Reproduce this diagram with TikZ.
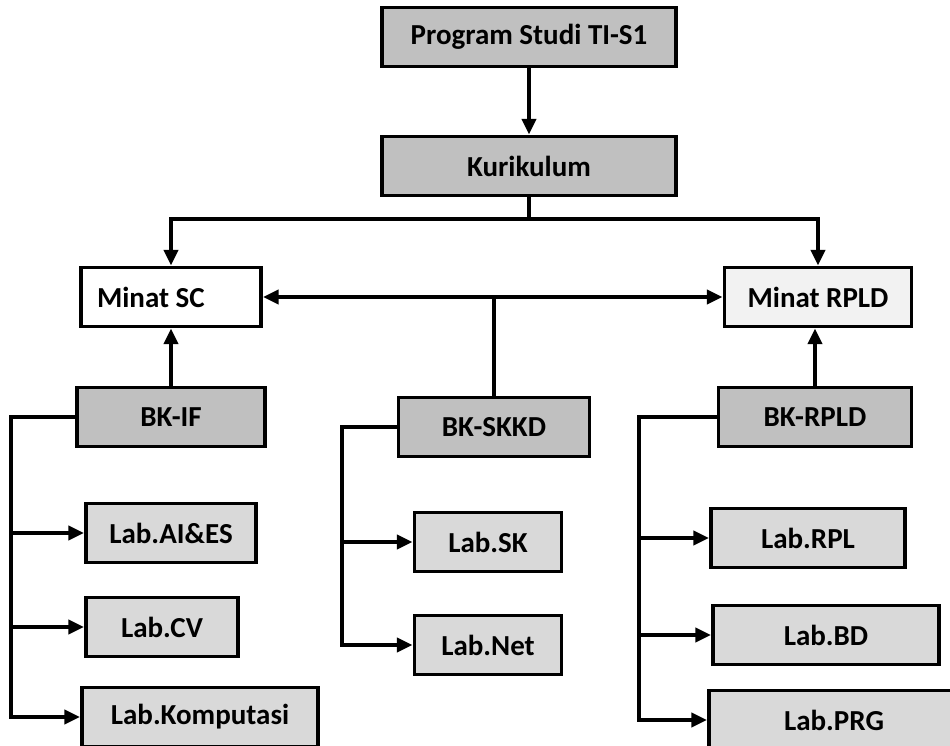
\documentclass[tikz,border=0pt]{standalone}
\usepackage{fontspec}
\setmainfont{Carlito}
\usetikzlibrary{arrows.meta,calc}
\definecolor{darkbox}{RGB}{192,192,192}
\definecolor{labbox}{RGB}{217,217,217}
\definecolor{minatbox}{RGB}{242,242,242}
\tikzset{%
        x = 0.02cm,
        y = -0.02cm,
        >={Triangle[length=9pt,width=8pt]},
        box/.style = {draw = black, line width = 2.2pt, inner sep = 0pt,
            minimum height = 1.18cm,
            font = \bfseries\fontsize{16.5}{18}\selectfont},
        head/.style = {box, fill = darkbox},
        lab/.style = {box, fill = labbox}
}

\begin{document}
\begin{tikzpicture}[line width=2.2pt]
            \clip (0,0) rectangle (950,746);
            \fill[white] (0,0) rectangle (950,746);
            % top
            \node[head, minimum width=5.88cm] (prog) at (529,37) {Program Studi TI-S1};
            \node[head, minimum width=5.88cm] (kur) at (529,166) {Kurikulum};
            % minat
            \node[box, fill=white, minimum width=3.6cm, text width=2.96cm,
                  inner xsep=0.32cm, align=flush left] (sc) at (171,297) {Minat SC};
            \node[box, fill=minatbox, minimum width=3.74cm] (rpld) at (818,297) {Minat RPLD};
            % bidang keahlian
            \node[head, minimum width=3.76cm] (bkif) at (171,417) {BK-IF};
            \node[head, minimum width=3.82cm] (bkskkd) at (494,427) {BK-SKKD};
            \node[head, minimum width=3.86cm] (bkrpld) at (815,417) {BK-RPLD};
            % lab
            \node[lab, minimum width=3.4cm] (labai) at (171,533) {Lab.AI\&ES};
            \node[lab, minimum width=3.04cm] (labcv) at (162,627) {Lab.CV};
            \node[lab, minimum width=4.72cm] (labkom) at (200,717) {Lab.Komputasi};
            \node[lab, minimum width=2.94cm] (labsk) at (488,542) {Lab.SK};
            \node[lab, minimum width=2.94cm] (labnet) at (488,645) {Lab.Net};
            \node[lab, minimum width=3.88cm] (labrpl) at (808,538) {Lab.RPL};
            \node[lab, minimum width=4.52cm] (labbd) at (826,635) {Lab.BD};
            \node[lab, minimum width=5cm] (labprg) at (834,720) {Lab.PRG};
            \coordinate (split) at (529,219);

            \draw[->] (prog) -- (kur);
            \draw (kur) -- (split);
            \draw[->] (split) -| (sc);
            \draw[->] (split) -| (rpld);
            \draw[<->] (sc) -- (rpld);
            \draw (bkskkd) -- (bkskkd |- sc);
            \draw[->] (bkif) -- (sc);
            \draw[->] (bkrpld.north) -- (bkrpld.north |- rpld.south);

            \foreach \l in {labai,labcv,labkom}
                \draw[->] (bkif.west) -- ++(-64,0) |- (\l.west);
            \foreach \l in {labsk,labnet}
                \draw[->] (bkskkd.west) -- ++(-55,0) |- (\l.west);
            \foreach \l in {labrpl,labbd,labprg}
                \draw[->] (bkrpld.west) -- ++(-78,0) |- (\l.west);
        \end{tikzpicture}
\end{document}
